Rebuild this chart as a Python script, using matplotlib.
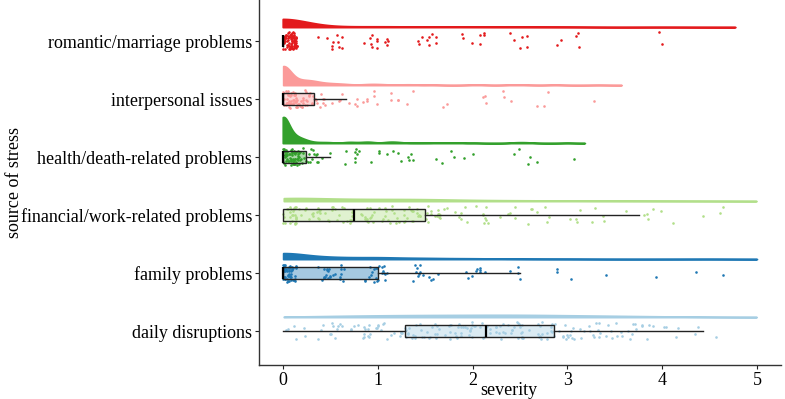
import numpy as np
import matplotlib.pyplot as plt
from matplotlib.colors import to_rgba

plt.rcParams['font.family'] = ['Liberation Serif', 'DejaVu Serif']

# categories from bottom to top, colours from the Paired palette
categories = ['daily disruptions', 'family problems', 'financial/work-related problems',
              'health/death-related problems', 'interpersonal issues', 'romantic/marriage problems']
colors = ['#A6CEE3', '#1F78B4', '#B2DF8A', '#33A02C', '#FB9A99', '#E31A1C']

# severity levels and number of answers on each level
daily_levels = [0, 0.14, 0.29, 0.43, 0.57, 0.71, 0.86, 1.0, 1.14, 1.29, 1.43, 1.57, 1.71, 1.86,
                2.0, 2.14, 2.29, 2.43, 2.57, 2.71, 2.86, 3.0, 3.14, 3.29, 3.43, 3.57, 3.71, 3.86,
                4.0, 4.14, 4.29, 4.43]
daily_counts = [2, 2, 3, 4, 5, 6, 7, 7, 8, 8, 8, 9, 9, 9, 9, 9, 10, 10, 10, 9, 8, 7, 7, 6, 6, 5,
                4, 3, 3, 2, 2, 2]

family_levels = [0, 0.5, 1, 1.5, 2, 2.5, 3, 3.5, 4, 4.5]
family_counts = [82, 23, 22, 13, 9, 4, 3, 1, 1, 2]

financial_levels = [0, 0.25, 0.5, 0.75, 1, 1.25, 1.5, 1.75, 2, 2.25, 2.5, 2.75, 3, 3.25, 3.5,
                    3.75, 4, 4.25, 4.5]
financial_counts = [54, 16, 16, 16, 14, 14, 21, 8, 7, 6, 6, 5, 3, 3, 3, 3, 2, 1, 3]

health_levels = [0, 0.05, 0.1, 0.15, 0.2, 0.25, 0.31, 0.34, 0.4, 0.43, 0.5,
                 0.66, 0.69, 0.71, 0.73, 0.8, 0.85, 0.89, 0.9, 0.92, 0.94, 1.08, 1.11, 1.13,
                 1.15, 1.18, 1.22, 1.25, 1.38, 1.5, 1.62, 1.66, 1.76, 1.83, 1.87, 2.02, 2.43,
                 2.46, 2.53, 2.55, 2.62, 3.0]
health_counts = [80, 10, 10, 8, 6, 4, 1, 1, 1, 1, 2,
                 1, 1, 1, 1, 1, 1, 1, 1, 1, 1, 1, 1, 1,
                 1, 1, 1, 1, 1, 1, 1, 1, 1, 1, 1, 1, 1,
                 1, 1, 1, 1, 1]

interpersonal_levels = [0, 0.08, 0.17, 0.25, 0.33, 0.42, 0.5, 0.58, 0.67,
                        0.85, 0.89, 0.9, 0.96, 0.97, 1.01, 1.06, 1.11, 1.25, 1.31, 1.34, 1.38,
                        1.55, 1.6, 1.99, 2.04, 2.09, 2.39, 2.44, 2.48, 2.58, 2.86, 2.88, 3.33]
interpersonal_counts = [82, 10, 10, 10, 10, 4, 4, 3, 3,
                        1, 1, 1, 1, 1, 1, 1, 1, 1, 1, 1, 1,
                        1, 1, 1, 1, 1, 1, 1, 1, 1, 1, 1, 1]

romantic_levels = [0, 0.5, 1, 1.5, 2, 2.5, 3, 4]
romantic_counts = [160, 10, 12, 9, 7, 6, 5, 2]

levels = [daily_levels, family_levels, financial_levels, health_levels,
          interpersonal_levels, romantic_levels]
counts = [daily_counts, family_counts, financial_counts, health_counts,
          interpersonal_counts, romantic_counts]
data = [np.repeat(lv, ct) for lv, ct in zip(levels, counts)]

x_lo, x_hi = 0, 5


def bw_nrd0(x):
    hi = np.std(x, ddof=1)
    q1, q3 = np.percentile(x, [25, 75])
    lo = min(hi, (q3 - q1) / 1.34)
    if lo == 0:
        lo = hi
    return 0.9 * lo * len(x) ** -0.2


def density(x):
    bw = bw_nrd0(x)
    grid = np.linspace(x.min() - 3 * bw, x.max() + 3 * bw, 512)
    d = np.exp(-0.5 * ((grid[:, None] - x[None, :]) / bw) ** 2).sum(axis=1)
    d /= len(x) * bw * np.sqrt(2 * np.pi)
    keep = (grid >= x_lo) & (grid <= x_hi)
    return grid[keep], d[keep]


fig = plt.figure(figsize=(7.85, 3.99), dpi=100)
ax = fig.add_axes([259 / 785, 34 / 399, 522 / 785, 365 / 399])

dens = [density(x) for x in data]
dmax = max(d.max() for _, d in dens)
cloud_off = 0.24
cloud_h = 0.45

rng = np.random.default_rng(7)
for k, (x, c) in enumerate(zip(data, colors)):
    g, d = dens[k]
    ax.fill_between(g, k + cloud_off, k + cloud_off + d / dmax * cloud_h,
                    color=c, lw=1.3, zorder=1)
    xj = x + rng.uniform(-0.15, 0.15, len(x))
    yj = k + rng.uniform(-0.15, 0.15, len(x))
    ok = (xj >= x_lo) & (xj <= x_hi)
    ax.scatter(xj[ok], yj[ok], s=3.5, color=c, lw=0, zorder=2)

bp = ax.boxplot(data, positions=range(len(data)), orientation='horizontal', widths=0.21,
                whis=1.5, showfliers=False, showcaps=False, patch_artist=True,
                boxprops=dict(color='#222222', lw=1),
                whiskerprops=dict(color='#222222', lw=1),
                medianprops=dict(color='black', lw=1.6),
                zorder=3)
for patch, c in zip(bp['boxes'], colors):
    patch.set_facecolor(to_rgba(c, 0.4))

ax.set_xlim(-0.25, 5.25)
ax.set_ylim(-0.586, 5.707)
ax.set_xticks([0, 1, 2, 3, 4, 5])
ax.set_xticklabels(['0', '1', '2', '3', '4', '5'])
ax.set_yticks(range(len(categories)))
ax.set_yticklabels(categories)

for side in ['top', 'right']:
    ax.spines[side].set_visible(False)
for side in ['left', 'bottom']:
    ax.spines[side].set_linewidth(1.0)
    ax.spines[side].set_color('#333333')
ax.tick_params(length=3, width=0.8, pad=2, labelsize=13, colors='#222222')
ax.tick_params(labelcolor='black')

ax.set_xlabel('severity', fontsize=13)
ax.xaxis.set_label_coords(0.479, -0.047)
ax.set_ylabel('source of stress', fontsize=13)
ax.yaxis.set_label_coords(-0.452, 0.5)

fig.savefig('out.png', dpi=100)
